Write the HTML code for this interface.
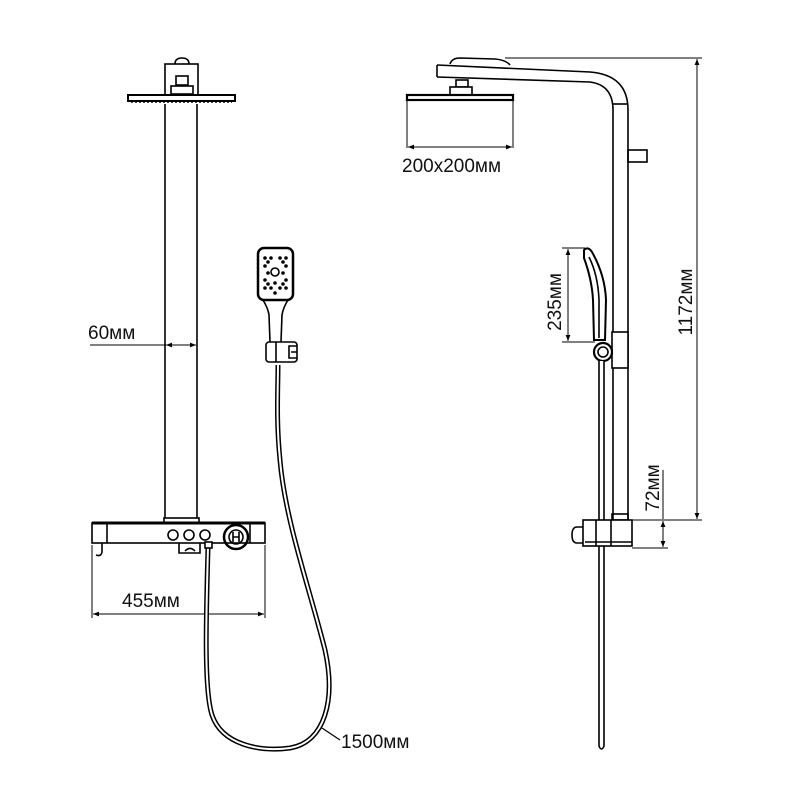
<!DOCTYPE html>
<html><head><meta charset="utf-8"><style>
html,body{margin:0;padding:0;background:#fff;}
svg{display:block}
text{font-family:"Liberation Sans",sans-serif;fill:#111;}
</style></head><body>
<svg width="800" height="800" viewBox="0 0 800 800" xmlns="http://www.w3.org/2000/svg">
<defs>
<marker id="a" viewBox="0 0 10 10" refX="10" refY="5" markerWidth="8" markerHeight="6" orient="auto-start-reverse"><path d="M0,1L10,5L0,9z" fill="#000"/></marker>
</defs>
<g fill="none" stroke="#000" stroke-width="1.6">
<path d="M175,64 Q175,58 182,58 Q189,58 189,64"/>
<rect x="165" y="64" width="33" height="32" fill="#fff"/>
<rect x="176" y="76" width="12" height="9"/>
<rect x="171" y="86" width="22" height="8" fill="#fff"/>
<rect x="128" y="95" width="107" height="6" fill="#fff" stroke-width="2"/>
<line x1="131" y1="102" x2="232" y2="102" stroke-width="1.6" stroke-dasharray="2,2"/>
<line x1="165" y1="104" x2="165" y2="518"/>
<line x1="197" y1="104" x2="197" y2="518"/>
<rect x="164" y="518" width="35" height="5"/>
<rect x="92" y="523" width="173" height="20" fill="#fff" stroke-width="1.6"/>
<line x1="92" y1="523" x2="265" y2="523" stroke-width="3"/>
<line x1="107" y1="523" x2="107" y2="543"/>
<line x1="250" y1="523" x2="250" y2="543"/>
<path d="M102,543 L102,552 Q101,557 96,555"/>
<circle cx="173" cy="535" r="5"/>
<circle cx="189" cy="535" r="5"/>
<circle cx="205" cy="535" r="5"/>
<circle cx="236" cy="537" r="12" stroke-width="2.5"/>
<circle cx="236" cy="537" r="7"/>
<path d="M233,532v10M239,532v10M233,537h6"/>
<path d="M179,543 v10 h21 v-10"/>
<path d="M185,551 q5,-5 10,0"/>
<line x1="92" y1="545" x2="92" y2="618" stroke-width="1"/>
<line x1="265" y1="545" x2="265" y2="618" stroke-width="1"/>
<line x1="93" y1="614" x2="264" y2="614" stroke-width="1" marker-start="url(#a)" marker-end="url(#a)"/>
<line x1="90" y1="345" x2="196" y2="345" stroke-width="1" marker-end="url(#a)"/>
<line x1="166" y1="345" x2="175" y2="345" stroke-width="1" marker-start="url(#a)"/>
<path d="M208,548 C206,620 204,690 212,715 C222,745 260,752 290,748 C325,742 336,700 325,650 C310,590 285,520 280,460 C276,420 278,390 278,365" stroke-width="5"/>
<path d="M208,548 C206,620 204,690 212,715 C222,745 260,752 290,748 C325,742 336,700 325,650 C310,590 285,520 280,460 C276,420 278,390 278,365" stroke="#fff" stroke-width="2"/>
<rect x="205" y="542" width="7" height="6" fill="#fff"/>
<line x1="322" y1="728" x2="340" y2="740" stroke-width="1.2"/>
<rect x="258" y="248" width="35" height="52" rx="6" fill="#fff" stroke-width="2.5"/>
<g fill="#000" stroke="none">
<circle cx="265" cy="258" r="1.8"/><circle cx="271" cy="258" r="1.8"/><circle cx="280" cy="258" r="1.8"/><circle cx="286" cy="258" r="1.8"/>
<circle cx="268" cy="262" r="1.8"/><circle cx="283" cy="262" r="1.8"/>
<circle cx="265" cy="266" r="1.8"/><circle cx="286" cy="266" r="1.8"/>
<circle cx="265" cy="280" r="1.8"/><circle cx="286" cy="280" r="1.8"/>
<circle cx="268" cy="284" r="1.8"/><circle cx="283" cy="284" r="1.8"/>
<circle cx="265" cy="288" r="1.8"/><circle cx="271" cy="288" r="1.8"/><circle cx="280" cy="288" r="1.8"/><circle cx="286" cy="288" r="1.8"/>
<circle cx="268" cy="273" r="1.8"/><circle cx="283" cy="273" r="1.8"/><circle cx="275" cy="293" r="1.8"/><circle cx="275" cy="283" r="1.8"/>
</g>
<circle cx="275" cy="272" r="4"/>
<path d="M263,300 Q268,308 269,315 L270,342 M288,300 Q283,308 282,315 L281,342"/>
<rect x="266" y="342" width="31" height="20" rx="3" fill="#fff"/>
<line x1="276" y1="342" x2="276" y2="362"/>
<path d="M297,346h-8v12h8M297,352h-6"/>
<path d="M437,65 L590,72 Q628,75 628,110 L628,520"/>
<path d="M437,77 L590,82 Q613,85 613,110 L613,520"/>
<line x1="437" y1="65" x2="437" y2="77"/>
<path d="M450,64 Q452,58 460,58 L495,59 Q506,60 510,65"/>
<line x1="613" y1="104" x2="628" y2="104"/>
<rect x="628" y="150" width="19" height="12"/>
<rect x="456" y="80" width="12" height="7"/>
<rect x="450" y="87" width="22" height="8" fill="#fff"/>
<rect x="407" y="95" width="106" height="5" fill="#fff" stroke-width="2.2"/>
<line x1="407" y1="100" x2="407" y2="148" stroke-width="1"/>
<line x1="513" y1="100" x2="513" y2="148" stroke-width="1"/>
<line x1="408" y1="147" x2="512" y2="147" stroke-width="1" marker-start="url(#a)" marker-end="url(#a)"/>
<line x1="505" y1="58" x2="702" y2="58" stroke-width="1"/>
<line x1="630" y1="520" x2="702" y2="520" stroke-width="1"/>
<line x1="697" y1="59" x2="697" y2="519" stroke-width="1" marker-start="url(#a)" marker-end="url(#a)"/>
<line x1="562" y1="248" x2="585" y2="248" stroke-width="1"/>
<line x1="562" y1="342" x2="595" y2="342" stroke-width="1"/>
<line x1="568" y1="249" x2="568" y2="341" stroke-width="1" marker-start="url(#a)" marker-end="url(#a)"/>
<path d="M584,250 Q588,246 592,252 Q605,275 606,300 L605,340 L594,340 L593,300 Q592,280 584,258 Z" fill="#fff" stroke-width="2"/>
<path d="M589,257 Q598,275 599,300 L599,338"/>
<rect x="612" y="332" width="16" height="36" fill="#fff"/>
<circle cx="603" cy="352" r="9" fill="#fff" stroke-width="2.2"/>
<circle cx="603" cy="352" r="5"/>
<path d="M599,361 L599,746 Q601.5,752 604,746 L604,361" stroke-width="1.6" fill="#fff"/>
<rect x="612" y="514" width="16" height="6"/>
<rect x="583" y="520" width="49" height="26" fill="#fff"/>
<line x1="611" y1="520" x2="611" y2="546"/>
<line x1="596" y1="520" x2="596" y2="546"/>
<path d="M583,527 h-6 q-5,0 -5,8 q0,8 5,8 h6"/>
<line x1="585" y1="542" x2="632" y2="542"/>
<line x1="632" y1="548" x2="668" y2="548" stroke-width="1"/>
<line x1="663" y1="470" x2="663" y2="519" stroke-width="1"/>
<line x1="663" y1="521" x2="663" y2="547" stroke-width="1" marker-start="url(#a)" marker-end="url(#a)"/>
</g>
<text x="122" y="607" font-size="19">455мм</text>
<text x="88" y="339" font-size="19">60мм</text>
<text x="341" y="748" font-size="19">1500мм</text>
<text x="402" y="172" font-size="19">200x200мм</text>
<text transform="translate(692,302) rotate(-90)" font-size="19" text-anchor="middle">1172мм</text>
<text transform="translate(561,302) rotate(-90)" font-size="19" text-anchor="middle">235мм</text>
<text transform="translate(659,488) rotate(-90)" font-size="19" text-anchor="middle">72мм</text>
</svg>
</body></html>
